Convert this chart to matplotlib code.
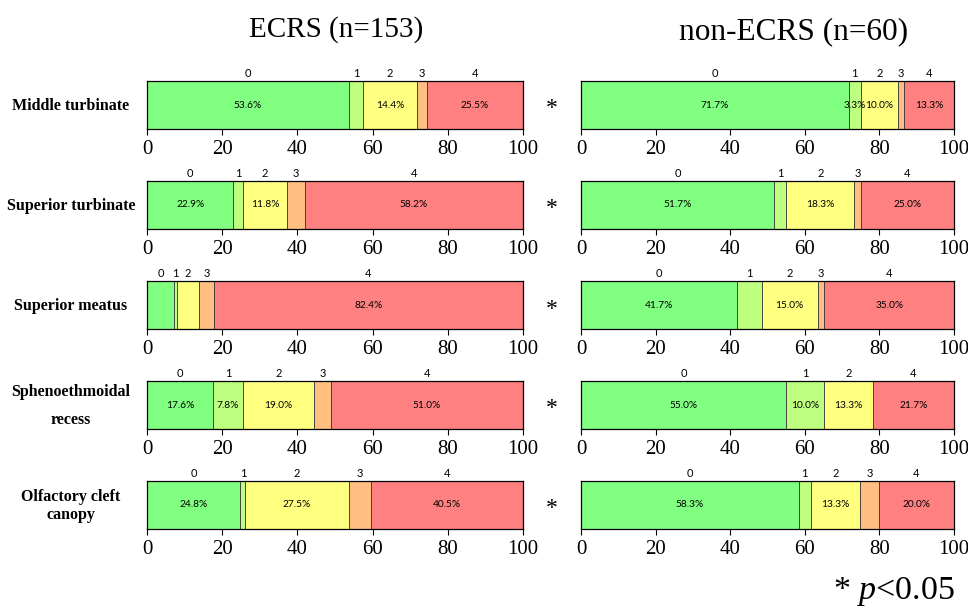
import matplotlib
matplotlib.use("Agg")
import matplotlib.pyplot as plt

plt.rcParams["mathtext.fontset"] = "custom"
plt.rcParams["mathtext.rm"] = "Liberation Serif"
plt.rcParams["mathtext.it"] = "Liberation Serif:italic"

# Olfactory cleft sites and endoscopic score distributions (% of patients)
sites = ["Middle turbinate", "Superior turbinate", "Superior meatus",
         "Sphenoethmoidal\nrecess", "Olfactory cleft\ncanopy"]
scores = ["0", "1", "2", "3", "4"]

ecrs_title = "ECRS (n=153)"
non_title = "non-ECRS (n=60)"

ecrs_pct = [
    [53.6, 3.9, 14.4, 2.6, 25.5],
    [22.9, 2.6, 11.8, 4.6, 58.2],
    [7.2, 0.7, 5.9, 3.9, 82.4],
    [17.6, 7.8, 19.0, 4.6, 51.0],
    [24.8, 1.3, 27.5, 5.9, 40.5],
]
non_pct = [
    [71.7, 3.3, 10.0, 1.7, 13.3],
    [51.7, 3.3, 18.3, 1.7, 25.0],
    [41.7, 6.7, 15.0, 1.7, 35.0],
    [55.0, 10.0, 13.3, 0.0, 21.7],
    [58.3, 3.3, 13.3, 5.0, 20.0],
]
# which segments carry a printed percentage
ecrs_show = [
    [1, 0, 1, 0, 1],
    [1, 0, 1, 0, 1],
    [0, 0, 0, 0, 1],
    [1, 1, 1, 0, 1],
    [1, 0, 1, 0, 1],
]
non_show = [
    [1, 1, 1, 0, 1],
    [1, 0, 1, 0, 1],
    [1, 0, 1, 0, 1],
    [1, 1, 1, 0, 1],
    [1, 0, 1, 0, 1],
]
significant = [True, True, True, True, True]
xticks = [0, 20, 40, 60, 80, 100]

colors = ["#80FF80", "#BFFF80", "#FFFF80", "#FFBF80", "#FF8080"]

W, H = 968, 611
fig = plt.figure(figsize=(W / 100, H / 100), dpi=100)

serif = "Liberation Serif"
sans = "Lato"

left_x = (147.3, 522.7)
right_x = (581.3, 954.0)
bar_top0 = 80.7
bar_h = 48.6
row_step = 100.0
line_gap = [0, 0, 0, 28, 18]   # pixel gap between lines of two-line site names


def panel(xr, top, vals, show):
    ax = fig.add_axes([xr[0] / W, 1 - (top + bar_h) / H,
                       (xr[1] - xr[0]) / W, bar_h / H])
    left = 0.0
    for v, c, lab, s in zip(vals, colors, scores, show):
        if v > 0:
            ax.barh(0, v, left=left, height=1.0, color=c,
                    edgecolor="#3a3a3a", linewidth=0.6)
            cx = left + v / 2
            ax.text(cx, 1.03, lab, transform=ax.get_xaxis_transform(),
                    ha="center", va="bottom", fontsize=8, family=sans)
            if s:
                ax.text(cx, 0, f"{v:.1f}%", ha="center", va="center",
                        fontsize=7.3, family=sans)
        left += v
    ax.set_xlim(0, 100)
    ax.set_ylim(-0.5, 0.5)
    ax.set_yticks([])
    ax.set_xticks(xticks)
    ax.set_xticklabels([str(t) for t in xticks], family=serif, fontsize=15)
    ax.tick_params(axis="x", direction="out", length=4, width=0.8, pad=4)
    for sp in ax.spines.values():
        sp.set_linewidth(0.9)
        sp.set_color("black")
    return ax


for i, site in enumerate(sites):
    top = bar_top0 + i * row_step
    panel(left_x, top, ecrs_pct[i], ecrs_show[i])
    panel(right_x, top, non_pct[i], non_show[i])
    yc = top + bar_h / 2 + 1
    lines = site.split("\n")
    n = len(lines)
    for k, line in enumerate(lines):
        y = yc + (k - (n - 1) / 2) * line_gap[i]
        fig.text(71 / W, 1 - y / H, line, ha="center", va="center",
                 fontsize=11.5, family=serif, fontweight="bold")
    if significant[i]:
        fig.text(552 / W, 1 - (top + bar_h / 2 + 4) / H, "*", ha="center",
                 va="center", fontsize=17, family=serif)

fig.text(336 / W, 1 - 30 / H, ecrs_title, ha="center", va="center",
         fontsize=21, family=serif)
fig.text(794 / W, 1 - 32 / H, non_title, ha="center", va="center",
         fontsize=22.5, family=serif)
fig.text(955 / W, 1 - 591 / H, r"* $\mathit{p}$<0.05", ha="right",
         va="center", fontsize=24.5, family=serif)

fig.savefig("out.png", dpi=100)
